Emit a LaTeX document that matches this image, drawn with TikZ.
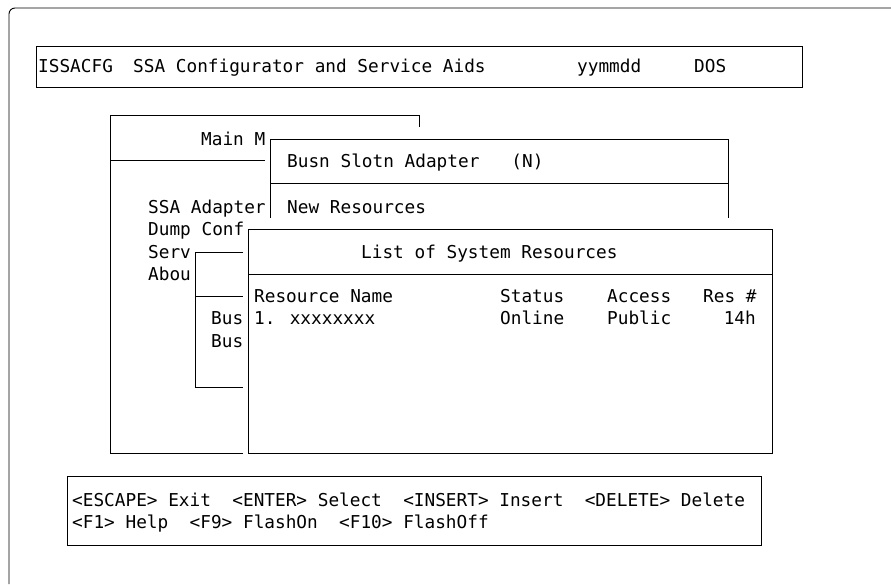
\documentclass[tikz,border=0pt]{standalone}
\usepackage{fontspec}
\usepackage{tikz}
\usetikzlibrary{positioning}
\newfontfamily\scrfont{DejaVu Sans Mono}

\tikzset{
  frm/.style={draw=black, line width=0.9pt},
  txt/.style={font=\scrfont\fontsize{17.74}{20}\selectfont, inner sep=0pt, anchor=base west},
}

\begin{document}
\begin{tikzpicture}[x=1pt, y=-1pt]
    \useasboundingbox (0,0) rectangle (891,584);

    % outer frame, open on the right and at the bottom
    \draw[frm, rounded corners=6pt] (9,584) -- (9,8) -- (891,8);

    % title bar
    \draw[frm] (36,46) rectangle (802,87);
    \node[txt] (hdrName) at (38,72.5) {ISSACFG};
    \node[txt] (hdrTitle) at (133,72.5) {SSA Configurator and Service Aids};
    \node[txt] (hdrDate) at (577,72.5) {yymmdd};
    \node[txt] (hdrOs) at (694,72.5) {DOS};

    % main menu window (partly covered)
    \draw[frm] (243,453) -- (110,453) -- (110,115) -- (419,115) -- (419,127);
    \draw[frm] (110,160) -- (265,160);
    \node[txt] (mainTitle) at (201,145.5) {Main M};
    \node[txt] (mainAdapter) at (148,213.5) {SSA Adapter};
    \node[txt] (mainDump) at (148,235.5) {Dump Conf};
    \node[txt] (mainServ) at (148,258.5) {Serv};
    \node[txt] (mainAbou) at (148,280.5) {Abou};

    % bus / slot window
    \draw[frm] (270,218) -- (270,139) -- (728,139) -- (728,218);
    \draw[frm] (270,183) -- (728,183);
    \node[txt] (busnTitle) at (287,167.5) {Busn Slotn Adapter~~~(N)};
    \node[txt] (busnNew) at (287,213.5) {New Resources};

    % small window behind the list
    \draw[frm] (243,252) -- (195,252) -- (195,387) -- (243,387);
    \draw[frm] (195,296) -- (243,296);
    \node[txt] (busA) at (211,324.5) {Bus};
    \node[txt] (busB) at (211,347) {Bus};

    % list of system resources
    \draw[frm] (248,229) rectangle (772,453);
    \draw[frm] (248,274) -- (772,274);
    \node[txt] (listTitle) at (361,258.5) {List of System Resources};
    \node[txt] (colName) at (254,302.5) {Resource Name};
    \node[txt] (colStatus) at (500,302.5) {Status};
    \node[txt] (colAccess) at (607,302.5) {Access};
    \node[txt] (colRes) at (703,302.5) {Res \#};
    \node[txt] (rowName) at (254,324.5) {1. xxxxxxxx};
    \node[txt] (rowStatus) at (500,324.5) {Online};
    \node[txt] (rowAccess) at (607,324.5) {Public};
    \node[txt, anchor=base east] (rowRes) at (756,324.5) {14h};

    % function keys
    \draw[frm] (67,476) rectangle (761,545);
    \node[txt] (keysA) at (72,506.5) {<ESCAPE> Exit~~<ENTER> Select~~<INSERT> Insert~~<DELETE> Delete};
    \node[txt] (keysB) at (72,528.5) {<F1> Help~~<F9> FlashOn~~<F10> FlashOff};
\end{tikzpicture}
\end{document}
